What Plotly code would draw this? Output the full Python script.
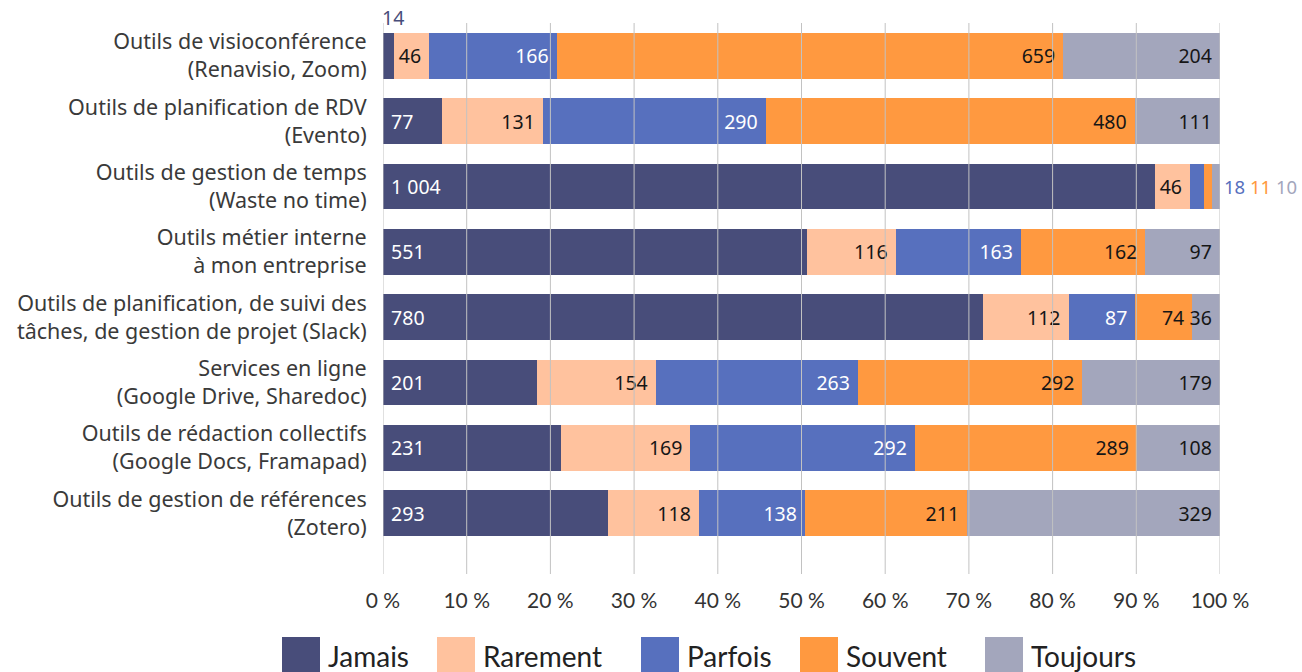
import plotly.graph_objects as go

categories = [
    "Outils de visioconférence<br>(Renavisio, Zoom)",
    "Outils de planification de RDV<br>(Evento)",
    "Outils de gestion de temps<br>(Waste no time)",
    "Outils métier interne<br>à mon entreprise",
    "Outils de planification, de suivi des<br>tâches, de gestion de projet (Slack)",
    "Services en ligne<br>(Google Drive, Sharedoc)",
    "Outils de rédaction collectifs<br>(Google Docs, Framapad)",
    "Outils de gestion de références<br>(Zotero)",
]
series_names = ["Jamais", "Rarement", "Parfois", "Souvent", "Toujours"]
jamais = [14, 77, 1004, 551, 780, 201, 231, 293]
rarement = [46, 131, 46, 116, 112, 154, 169, 118]
parfois = [166, 290, 18, 163, 87, 263, 292, 138]
souvent = [659, 480, 11, 162, 74, 292, 289, 211]
toujours = [204, 111, 10, 97, 36, 179, 108, 329]
tick_values = [0, 10, 20, 30, 40, 50, 60, 70, 80, 90, 100]

series_values = [jamais, rarement, parfois, souvent, toujours]
colors = ["#484D7A", "#FFC29E", "#5770BE", "#FF9940", "#A3A6BC"]
text_colors = ["#FFFFFF", "#161616", "#FFFFFF", "#161616", "#161616"]

FONT = "Lato, 'Noto Sans', sans-serif"
LFONT = "'Noto Sans', Lato, sans-serif"
NB = "\u00a0"

W, H = 1302, 672
PL, PR, PT, PB = 383, 1220, 23, 574          # plot-area edges (px)
L, T = PL, PT
PW, PH = PR - PL, PB - PT
R, B = W - L - PW, H - T - PH


def px_x(px):
    return (px - PL) / PW


def px_y(py):
    return (PB - py) / PH


def fmt(v):
    return f"{v:,}".replace(",", " ")


totals = [sum(s[i] for s in series_values) for i in range(len(categories))]
threshold = 0.02

fig = go.Figure()
annotations = []
for k, (name, vals) in enumerate(zip(series_names, series_values)):
    texts = []
    for i, v in enumerate(vals):
        if v / totals[i] < threshold:
            texts.append("")
        else:
            texts.append(NB + fmt(v) if k == 0 else fmt(v) + NB)
    fig.add_trace(go.Bar(
        name=name,
        y=categories,
        x=vals,
        orientation="h",
        marker=dict(color=colors[k], line=dict(width=0)),
        text=texts,
        textposition="inside",
        insidetextanchor="start" if k == 0 else "end",
        constraintext="none",
        textangle=0,
        textfont=dict(family=LFONT, size=19.5, color=text_colors[k]),
        showlegend=False,
        hoverinfo="x+y+name",
    ))

# small values placed outside the bars
for i in range(len(categories)):
    right_parts = []
    for k, vals in enumerate(series_values):
        v = vals[i]
        if v / totals[i] < threshold:
            if k == 0:
                annotations.append(dict(
                    x=0, y=categories[i], xref="x", yref="y",
                    text=fmt(v), showarrow=False, xanchor="left", yanchor="middle",
                    yshift=38, xshift=-3,
                    font=dict(family=LFONT, size=19.5, color=colors[k])))
            else:
                right_parts.append(f"<span style='color:{colors[k]}'>{fmt(v)}</span>")
    if right_parts:
        annotations.append(dict(
            x=100, y=categories[i], xref="x", yref="y",
            text=" ".join(right_parts), showarrow=False, xanchor="left", yanchor="middle",
            xshift=2,
            font=dict(family=LFONT, size=18.5, color=colors[2])))

# gridlines drawn above the bars
shapes = []
for t in tick_values:
    shapes.append(dict(type="line", xref="x", yref="paper", x0=t, x1=t, y0=0, y1=1,
                       line=dict(color="#C2C2C2", width=1), layer="above"))

# legend drawn manually (large squares)
legend_left = [282, 437, 641, 800, 985]
for k, name in enumerate(series_names):
    x0 = legend_left[k]
    shapes.append(dict(type="rect", xref="paper", yref="paper",
                       x0=px_x(x0), x1=px_x(x0 + 38), y0=px_y(637), y1=px_y(690),
                       fillcolor=colors[k], line=dict(width=0), layer="above"))
    annotations.append(dict(
        x=px_x(x0 + 44), y=px_y(656), xref="paper", yref="paper",
        text=name, showarrow=False, xanchor="left", yanchor="middle",
        font=dict(family=FONT, size=28, color="#222222")))

fig.update_layout(
    barmode="stack",
    barnorm="percent",
    bargap=0.3,
    width=W, height=H,
    margin=dict(l=L, r=R, t=T, b=B, pad=0, autoexpand=False),
    plot_bgcolor="white",
    paper_bgcolor="white",
    font=dict(family=LFONT, size=20, color="#3a3a3a"),
    shapes=shapes,
    annotations=annotations,
    xaxis=dict(
        range=[0, 100],
        tickvals=tick_values,
        ticktext=[f"{t} %" for t in tick_values],
        showgrid=False, zeroline=False, showline=False,
        ticks="outside", ticklen=8, tickcolor="rgba(0,0,0,0)",
        tickfont=dict(family=FONT, size=21, color="#333333"),
        fixedrange=True,
    ),
    yaxis=dict(
        type="category",
        categoryorder="array",
        categoryarray=categories,
        range=[7.93, -0.5],
        showgrid=False, zeroline=False, showline=False,
        ticks="outside", ticklen=11, tickcolor="rgba(0,0,0,0)",
        tickfont=dict(family=LFONT, size=21.5, color="#3a3a3a"),
        fixedrange=True,
    ),
)

fig.write_html(
    "out.html",
    config={"displayModeBar": False},
    post_script="document.body.style.margin='0';document.body.style.overflow='hidden';",
)
